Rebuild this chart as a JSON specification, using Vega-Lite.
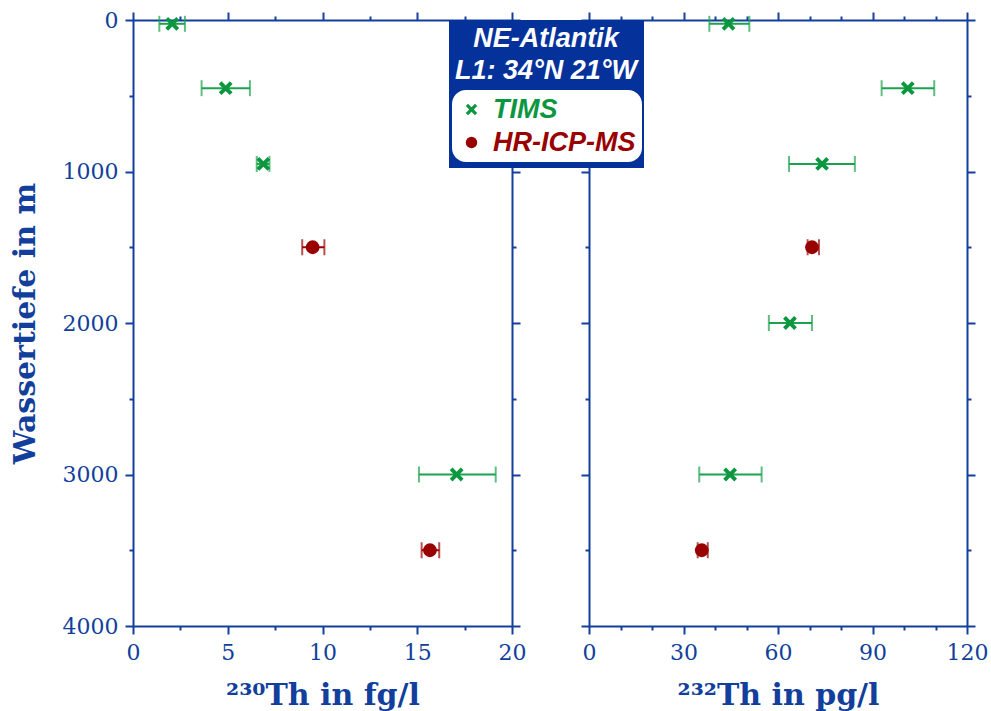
{
  "$schema": "https://vega.github.io/schema/vega-lite/v6.json",
  "background": "white",
  "padding": {"left": 10, "top": 9, "right": 5, "bottom": 2},
  "datasets": {
    "th230": [
      {"depth": 25, "value": 2.07, "lo": 1.39, "hi": 2.74, "method": "TIMS"},
      {"depth": 450, "value": 4.89, "lo": 3.62, "hi": 6.17, "method": "TIMS"},
      {"depth": 950, "value": 6.88, "lo": 6.53, "hi": 7.2, "method": "TIMS"},
      {"depth": 1500, "value": 9.48, "lo": 8.93, "hi": 10.1, "method": "HR-ICP-MS"},
      {"depth": 3000, "value": 17.08, "lo": 15.09, "hi": 19.14, "method": "TIMS"},
      {"depth": 3500, "value": 15.67, "lo": 15.23, "hi": 16.16, "method": "HR-ICP-MS"}
    ],
    "th232": [
      {"depth": 25, "value": 44.3, "lo": 38.2, "hi": 50.9, "method": "TIMS"},
      {"depth": 450, "value": 101.2, "lo": 92.9, "hi": 109.6, "method": "TIMS"},
      {"depth": 950, "value": 74.0, "lo": 63.5, "hi": 84.4, "method": "TIMS"},
      {"depth": 1500, "value": 70.8, "lo": 69.4, "hi": 73.0, "method": "HR-ICP-MS"},
      {"depth": 2000, "value": 63.8, "lo": 57.1, "hi": 70.8, "method": "TIMS"},
      {"depth": 3000, "value": 44.8, "lo": 35.0, "hi": 54.8, "method": "TIMS"},
      {"depth": 3500, "value": 35.8, "lo": 34.5, "hi": 37.7, "method": "HR-ICP-MS"}
    ]
  },
  "config": {
    "view": {"stroke": null},
    "axis": {
      "domainColor": "#123f9c",
      "domainWidth": 2,
      "tickColor": "#123f9c",
      "tickWidth": 2,
      "labelColor": "#123f9c",
      "titleColor": "#123f9c",
      "labelFont": "DejaVu Serif",
      "titleFont": "DejaVu Serif",
      "labelFontSize": 22,
      "titleFontSize": 30,
      "titleFontWeight": "bold",
      "labelFlush": false,
      "labelOverlap": false,
      "grid": false
    }
  },
  "spacing": 54,
  "hconcat": [
    {
      "width": 379,
      "height": 606,
      "data": {"name": "th230"},
      "layer": [
        {
          "mark": {"type": "rule", "strokeWidth": 2},
          "encoding": {
            "x": {"field": "lo", "type": "quantitative", "scale": {"domain": [0, 20], "nice": false},
              "axis": {"orient": "bottom", "values": [0, 2.5, 5, 7.5, 10, 12.5, 15, 17.5, 20],
                "labelExpr": "datum.value % 5 === 0 ? datum.label : ''",
                "tickSize": {"condition": {"test": "datum.value % 5 === 0", "value": 8}, "value": 4},
                "labelPadding": 8, "title": "²³⁰Th in fg/l", "titlePadding": 17}},
            "x2": {"field": "hi"},
            "y": {"field": "depth", "type": "quantitative", "scale": {"domain": [0, 4000], "reverse": true, "nice": false},
              "axis": {"orient": "left", "values": [0, 500, 1000, 1500, 2000, 2500, 3000, 3500, 4000],
                "labelExpr": "datum.value % 1000 === 0 ? datum.label : ''",
                "tickSize": {"condition": {"test": "datum.value % 1000 === 0", "value": 8}, "value": 4},
                "format": "d", "labelPadding": 7, "title": "Wassertiefe in m", "titlePadding": 22}},
            "color": {"condition": {"test": "datum.method === 'TIMS'", "value": "#1ba24c"}, "value": "#9b0000"}
          }
        },
        {
          "mark": {"type": "tick", "orient": "vertical", "size": 16, "thickness": 2},
          "encoding": {
            "x": {"field": "lo", "type": "quantitative", "scale": {"domain": [0, 20], "nice": false}, "axis": null},
            "y": {"field": "depth", "type": "quantitative", "scale": {"domain": [0, 4000], "reverse": true, "nice": false}, "axis": null},
            "color": {"condition": {"test": "datum.method === 'TIMS'", "value": "#1ba24c"}, "value": "#9b0000"}
          }
        },
        {
          "mark": {"type": "tick", "orient": "vertical", "size": 16, "thickness": 2},
          "encoding": {
            "x": {"field": "hi", "type": "quantitative", "scale": {"domain": [0, 20], "nice": false}, "axis": null},
            "y": {"field": "depth", "type": "quantitative", "scale": {"domain": [0, 4000], "reverse": true, "nice": false}, "axis": null},
            "color": {"condition": {"test": "datum.method === 'TIMS'", "value": "#1ba24c"}, "value": "#9b0000"}
          }
        },
        {
          "mark": {"type": "point", "filled": true, "size": 190, "strokeWidth": 0},
          "encoding": {
            "x": {"field": "value", "type": "quantitative", "scale": {"domain": [0, 20], "nice": false},
              "axis": {"orient": "top", "values": [0, 2.5, 5, 7.5, 10, 12.5, 15, 17.5, 20], "labels": false, "title": null,
                "tickSize": {"condition": {"test": "datum.value % 5 === 0", "value": 8}, "value": 4}}},
            "y": {"field": "depth", "type": "quantitative", "scale": {"domain": [0, 4000], "reverse": true, "nice": false},
              "axis": {"orient": "right", "values": [0, 500, 1000, 1500, 2000, 2500, 3000, 3500, 4000], "labels": false, "title": null,
                "tickSize": {"condition": {"test": "datum.value % 1000 === 0", "value": 8}, "value": 4}}},
            "color": {"field": "method", "type": "nominal",
              "scale": {"domain": ["TIMS", "HR-ICP-MS"], "range": ["#0b9640", "#990000"]},
              "legend": {"orient": "none", "legendX": 319, "legendY": 70, "title": null, "fillColor": "white", "cornerRadius": 14,
                "padding": 6, "labelFont": "Liberation Sans", "labelFontSize": 27, "labelFontWeight": "bold", "labelFontStyle": "italic",
                "labelColor": {"expr": "datum.value === 'TIMS' ? '#0b9640' : '#990000'"}, "labelLimit": 400,
                "symbolSize": 130, "symbolStrokeWidth": 0, "symbolOpacity": 1, "labelOffset": 8, "rowPadding": 5, "zindex": 2}},
            "shape": {"field": "method", "type": "nominal",
              "scale": {"domain": ["TIMS", "HR-ICP-MS"], "range": ["M-1,-0.6L-0.6,-1L0,-0.4L0.6,-1L1,-0.6L0.4,0L1,0.6L0.6,1L0,0.4L-0.6,1L-1,0.6L-0.4,0Z", "circle"]},
              "legend": {"orient": "none", "legendX": 319, "legendY": 70, "title": null, "fillColor": "white", "cornerRadius": 14,
                "padding": 6, "labelFont": "Liberation Sans", "labelFontSize": 27, "labelFontWeight": "bold", "labelFontStyle": "italic",
                "labelColor": {"expr": "datum.value === 'TIMS' ? '#0b9640' : '#990000'"}, "labelLimit": 400,
                "symbolSize": 130, "symbolStrokeWidth": 0, "symbolOpacity": 1, "labelOffset": 8, "rowPadding": 5, "zindex": 2}},
            "opacity": {"datum": "NE-Atlantik", "type": "nominal", "scale": {"range": [1, 1]},
              "legend": {"orient": "none", "legendX": 316, "legendY": 0, "title": ["NE-Atlantik", "L1: 34°N 21°W"],
                "titleColor": "white", "titleFont": "Liberation Sans", "titleFontSize": 27, "titleFontWeight": "bold", "titleFontStyle": "italic",
                "titleAnchor": "middle", "titleLineHeight": 32, "titlePadding": 73, "titleLimit": 400, "fillColor": "#05319a", "padding": 6,
                "symbolOpacity": 0, "symbolSize": 0, "labelExpr": "''", "labelFontSize": 1, "zindex": 1}}
          }
        }
      ],
      "resolve": {"axis": {"x": "independent", "y": "independent"}}
    },
    {
      "width": 378,
      "height": 606,
      "data": {"name": "th232"},
      "layer": [
        {
          "mark": {"type": "rule", "strokeWidth": 2},
          "encoding": {
            "x": {"field": "lo", "type": "quantitative", "scale": {"domain": [0, 120], "nice": false},
              "axis": {"orient": "bottom", "values": [0, 10, 20, 30, 40, 50, 60, 70, 80, 90, 100, 110, 120],
                "labelExpr": "datum.value % 30 === 0 ? datum.label : ''",
                "tickSize": {"condition": {"test": "datum.value % 30 === 0", "value": 8}, "value": 4},
                "labelPadding": 8, "title": "²³²Th in pg/l", "titlePadding": 17}},
            "x2": {"field": "hi"},
            "y": {"field": "depth", "type": "quantitative", "scale": {"domain": [0, 4000], "reverse": true, "nice": false},
              "axis": {"orient": "left", "values": [0, 500, 1000, 1500, 2000, 2500, 3000, 3500, 4000], "labels": false, "title": null,
                "tickSize": {"condition": {"test": "datum.value % 1000 === 0", "value": 8}, "value": 4}}},
            "color": {"condition": {"test": "datum.method === 'TIMS'", "value": "#1ba24c"}, "value": "#9b0000"}
          }
        },
        {
          "mark": {"type": "tick", "orient": "vertical", "size": 16, "thickness": 2},
          "encoding": {
            "x": {"field": "lo", "type": "quantitative", "scale": {"domain": [0, 120], "nice": false}, "axis": null},
            "y": {"field": "depth", "type": "quantitative", "scale": {"domain": [0, 4000], "reverse": true, "nice": false}, "axis": null},
            "color": {"condition": {"test": "datum.method === 'TIMS'", "value": "#1ba24c"}, "value": "#9b0000"}
          }
        },
        {
          "mark": {"type": "tick", "orient": "vertical", "size": 16, "thickness": 2},
          "encoding": {
            "x": {"field": "hi", "type": "quantitative", "scale": {"domain": [0, 120], "nice": false}, "axis": null},
            "y": {"field": "depth", "type": "quantitative", "scale": {"domain": [0, 4000], "reverse": true, "nice": false}, "axis": null},
            "color": {"condition": {"test": "datum.method === 'TIMS'", "value": "#1ba24c"}, "value": "#9b0000"}
          }
        },
        {
          "mark": {"type": "point", "filled": true, "size": 190, "strokeWidth": 0},
          "encoding": {
            "x": {"field": "value", "type": "quantitative", "scale": {"domain": [0, 120], "nice": false},
              "axis": {"orient": "top", "values": [0, 10, 20, 30, 40, 50, 60, 70, 80, 90, 100, 110, 120], "labels": false, "title": null,
                "tickSize": {"condition": {"test": "datum.value % 30 === 0", "value": 8}, "value": 4}}},
            "y": {"field": "depth", "type": "quantitative", "scale": {"domain": [0, 4000], "reverse": true, "nice": false},
              "axis": {"orient": "right", "values": [0, 500, 1000, 1500, 2000, 2500, 3000, 3500, 4000], "labels": false, "title": null,
                "tickSize": {"condition": {"test": "datum.value % 1000 === 0", "value": 8}, "value": 4}}},
            "color": {"field": "method", "type": "nominal",
              "scale": {"domain": ["TIMS", "HR-ICP-MS"], "range": ["#0b9640", "#990000"]},
              "legend": {"orient": "none", "legendX": 319, "legendY": 70, "title": null, "fillColor": "white", "cornerRadius": 14,
                "padding": 6, "labelFont": "Liberation Sans", "labelFontSize": 27, "labelFontWeight": "bold", "labelFontStyle": "italic",
                "labelColor": {"expr": "datum.value === 'TIMS' ? '#0b9640' : '#990000'"}, "labelLimit": 400,
                "symbolSize": 130, "symbolStrokeWidth": 0, "symbolOpacity": 1, "labelOffset": 8, "rowPadding": 5, "zindex": 2}},
            "shape": {"field": "method", "type": "nominal",
              "scale": {"domain": ["TIMS", "HR-ICP-MS"], "range": ["M-1,-0.6L-0.6,-1L0,-0.4L0.6,-1L1,-0.6L0.4,0L1,0.6L0.6,1L0,0.4L-0.6,1L-1,0.6L-0.4,0Z", "circle"]},
              "legend": {"orient": "none", "legendX": 319, "legendY": 70, "title": null, "fillColor": "white", "cornerRadius": 14,
                "padding": 6, "labelFont": "Liberation Sans", "labelFontSize": 27, "labelFontWeight": "bold", "labelFontStyle": "italic",
                "labelColor": {"expr": "datum.value === 'TIMS' ? '#0b9640' : '#990000'"}, "labelLimit": 400,
                "symbolSize": 130, "symbolStrokeWidth": 0, "symbolOpacity": 1, "labelOffset": 8, "rowPadding": 5, "zindex": 2}},
            "opacity": {"datum": "NE-Atlantik", "type": "nominal", "scale": {"range": [1, 1]},
              "legend": {"orient": "none", "legendX": 316, "legendY": 0, "title": ["NE-Atlantik", "L1: 34°N 21°W"],
                "titleColor": "white", "titleFont": "Liberation Sans", "titleFontSize": 27, "titleFontWeight": "bold", "titleFontStyle": "italic",
                "titleAnchor": "middle", "titleLineHeight": 32, "titlePadding": 73, "titleLimit": 400, "fillColor": "#05319a", "padding": 6,
                "symbolOpacity": 0, "symbolSize": 0, "labelExpr": "''", "labelFontSize": 1, "zindex": 1}}
          }
        }
      ],
      "resolve": {"axis": {"x": "independent", "y": "independent"}}
    }
  ],
  "resolve": {
    "scale": {"color": "shared", "shape": "shared", "opacity": "shared"},
    "legend": {"color": "shared", "shape": "shared", "opacity": "shared"}
  }
}
